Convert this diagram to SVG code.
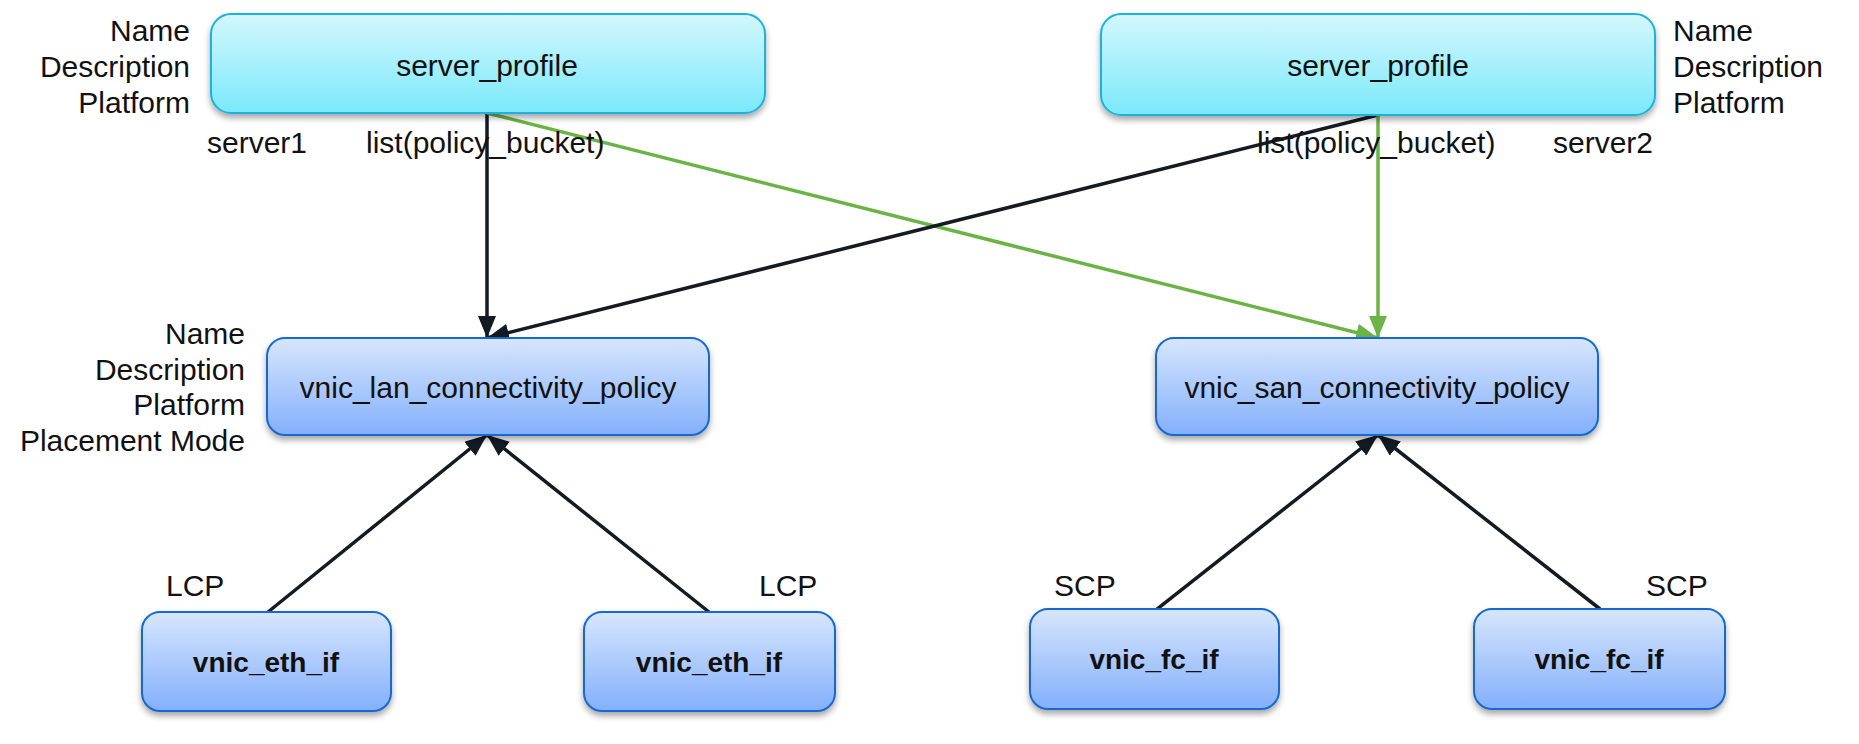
<svg xmlns="http://www.w3.org/2000/svg" width="1859" height="744" viewBox="0 0 1859 744">
<defs>
<linearGradient id="gCyan" x1="0" y1="0" x2="0" y2="1"><stop offset="0" stop-color="#d4f7fd"/><stop offset="1" stop-color="#7ae9fb"/></linearGradient>
<linearGradient id="gBlue" x1="0" y1="0" x2="0" y2="1"><stop offset="0" stop-color="#d7e6fd"/><stop offset="1" stop-color="#83affb"/></linearGradient>
<filter id="sh" x="-10%" y="-10%" width="120%" height="140%"><feDropShadow dx="0" dy="4" stdDeviation="3" flood-color="#000" flood-opacity="0.35"/></filter>
<marker id="aK" markerUnits="userSpaceOnUse" markerWidth="22" markerHeight="18" refX="22" refY="9" orient="auto"><path d="M0,0 L22,9 L0,18 Z" fill="#141a22"/></marker>
<marker id="aG" markerUnits="userSpaceOnUse" markerWidth="22" markerHeight="18" refX="22" refY="9" orient="auto"><path d="M0,0 L22,9 L0,18 Z" fill="#6ab446"/></marker>
</defs>
<style>
text{font-family:"Liberation Sans",Arial,sans-serif;fill:#111;font-size:30px}
.srv{fill:url(#gCyan);stroke:#1cb2df;stroke-width:2;filter:url(#sh)}
.pol{fill:url(#gBlue);stroke:#1869d2;stroke-width:2;filter:url(#sh)}
.c{text-anchor:middle;dominant-baseline:central}
.b{font-weight:bold;font-size:28px}
.r{text-anchor:end}
.k{stroke:#141a22;stroke-width:3.5;fill:none;marker-end:url(#aK)}
.g{stroke:#6ab446;stroke-width:3.5;fill:none;marker-end:url(#aG)}
</style>
<g id="connectors">
<line class="k" x1="487" y1="113" x2="487" y2="338"/>
<line class="g" x1="487" y1="113" x2="1378" y2="338"/>
<line class="k" x1="1378" y1="115" x2="487" y2="338"/>
<line class="g" x1="1378" y1="115" x2="1378" y2="338"/>
<line class="k" x1="268" y1="612" x2="487" y2="435"/>
<line class="k" x1="709" y1="612" x2="487" y2="435"/>
<line class="k" x1="1157" y1="609" x2="1378" y2="435"/>
<line class="k" x1="1600" y1="609" x2="1378" y2="435"/>
</g>
<g id="server_profile_1">
<rect class="srv" x="211" y="14" width="554" height="99" rx="20"/>
<text class="c" x="487" y="65">server_profile</text>
<text class="r" x="190" y="41">Name</text>
<text class="r" x="190" y="77">Description</text>
<text class="r" x="190" y="113">Platform</text>
<text x="207" y="153">server1</text>
<text x="366" y="153">list(policy_bucket)</text>
</g>
<g id="server_profile_2">
<rect class="srv" x="1101" y="14" width="554" height="101" rx="20"/>
<text class="c" x="1378" y="65">server_profile</text>
<text x="1673" y="41">Name</text>
<text x="1673" y="77">Description</text>
<text x="1673" y="113">Platform</text>
<text x="1257" y="153">list(policy_bucket)</text>
<text x="1553" y="153">server2</text>
</g>
<g id="vnic_lan_connectivity_policy">
<rect class="pol" x="267" y="338" width="442" height="97" rx="18"/>
<text class="c" x="488" y="387">vnic_lan_connectivity_policy</text>
<text class="r" x="245" y="344">Name</text>
<text class="r" x="245" y="380">Description</text>
<text class="r" x="245" y="415">Platform</text>
<text class="r" x="245" y="451">Placement Mode</text>
</g>
<g id="vnic_san_connectivity_policy">
<rect class="pol" x="1156" y="338" width="442" height="97" rx="18"/>
<text class="c" x="1377" y="387">vnic_san_connectivity_policy</text>
</g>
<g id="vnic_eth_if_1">
<rect class="pol" x="142" y="612" width="249" height="99" rx="18"/>
<text class="c b" x="266" y="662">vnic_eth_if</text>
<text x="166" y="596">LCP</text>
</g>
<g id="vnic_eth_if_2">
<rect class="pol" x="584" y="612" width="251" height="99" rx="18"/>
<text class="c b" x="709" y="662">vnic_eth_if</text>
<text x="759" y="596">LCP</text>
</g>
<g id="vnic_fc_if_1">
<rect class="pol" x="1030" y="609" width="249" height="100" rx="18"/>
<text class="c b" x="1154" y="659">vnic_fc_if</text>
<text x="1054" y="596">SCP</text>
</g>
<g id="vnic_fc_if_2">
<rect class="pol" x="1474" y="609" width="251" height="100" rx="18"/>
<text class="c b" x="1599" y="659">vnic_fc_if</text>
<text x="1646" y="596">SCP</text>
</g>
</svg>
